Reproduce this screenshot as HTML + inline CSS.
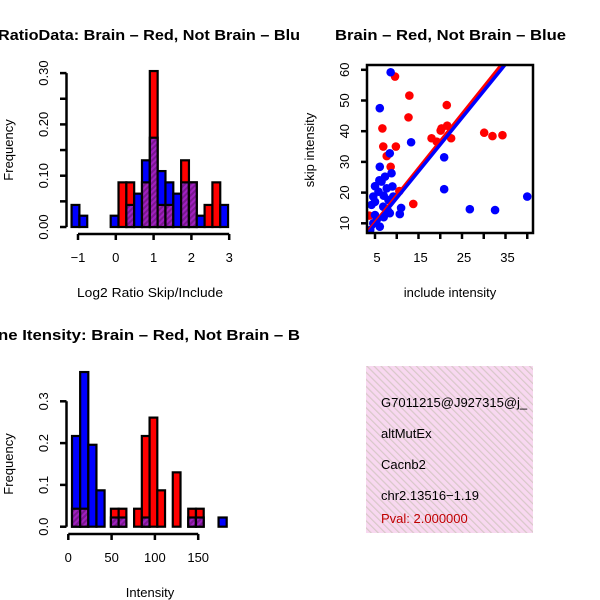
<!DOCTYPE html>
<html><head><meta charset="utf-8"><style>
body{margin:0;background:#fff}
svg{display:block;font-family:"Liberation Sans",sans-serif}
</style></head><body>
<svg id="s" width="600" height="600" viewBox="0 0 600 600" xmlns="http://www.w3.org/2000/svg">
<defs>
<pattern id="purp" patternUnits="userSpaceOnUse" width="4" height="4" patternTransform="rotate(45)">
<rect width="4" height="4" fill="#a020c0"/><rect width="2" height="4" fill="#7a1890"/></pattern>
<pattern id="pink" patternUnits="userSpaceOnUse" width="5" height="5" patternTransform="rotate(-45)">
<rect width="5" height="5" fill="#f8d8f0"/><rect width="1.2" height="5" fill="#d8c8c8"/></pattern>
<clipPath id="clip4"><rect x="366" y="366" width="167" height="167"/></clipPath>
</defs>
<g id="p1"></g>
<g id="p2"></g>
<g id="p3"></g>
<g id="p4" clip-path="url(#clip4)">
<rect x="366" y="366" width="167" height="167" fill="url(#pink)"/>
<text x="381" y="407" font-size="13">G7011215@J927315@j_</text>
<text x="381" y="438" font-size="13">altMutEx</text>
<text x="381" y="469" font-size="13">Cacnb2</text>
<text x="381" y="500" font-size="13">chr2.13516−1.19</text>
<text x="381" y="523" font-size="13" fill="#c00000">Pval: 2.000000</text>
</g>
</svg>
<script>
// ---- chart 1 data: log2 ratio histogram (20 bins) ----
const ratioStart = -1.17;
const ratioBinWidth = 0.207;
const ratioBlue = [0.043,0.022,0,0,0,0.022,0,0.043,0.065,0.13,0.174,0.109,0.087,0.065,0.087,0.087,0.022,0,0,0.043];
const ratioRed  = [0,0,0,0,0,0,0.087,0.087,0,0.087,0.304,0.043,0.043,0,0.13,0.087,0,0.043,0.087,0];
const ratioXTicks = [-1,0,1,2,3];
const ratioYTicks = [0,0.05,0.10,0.15,0.20,0.25,0.30];
const ratioYLabels = ["0.00","","0.10","","0.20","","0.30"];

// ---- chart 2 data: scatter ----
const redInclude = [9.6,12.9,21.5,12.7,6.7,20.3,21.6,20.1,18.0,19.2,22.5,30.1,32.0,34.3,6.9,9.8,7.7,8.6,10.6,13.8,3.7];
const redSkip    = [57.8,51.6,48.5,44.5,40.9,40.9,41.8,40.2,37.7,36.6,37.7,39.5,38.4,38.7,35.0,35.0,31.9,28.4,20.5,16.3,12.5];
const blueInclude = [8.6,6.1,13.3,8.4,20.9,6.1,8.8,5,6.5,7.7,20.9,4.6,9.2,4.2,6.9,10.7,8.4,5,26.8,32.6,40.0,6.1,4.6,3.9,5.8,7.3,8.1,5.4,6,7,9,5,8,11,7];
const blueSkip    = [59.2,47.5,36.4,32.8,31.5,28.4,26.3,22.1,23.6,21.4,21.1,18.7,18.7,16.0,15.4,13.0,13.3,12.7,14.6,14.3,18.7,8.9,10,7.8,20.3,25.2,17.6,11.1,24,19,22,17,14,15,12];
const fitIntercept = [1.3,0.76];   // red, blue
const fitSlope = [1.77,1.745];
const scatterXTicks = [5,10,15,20,25,30,35,40];
const scatterXLabels = ["5","","15","","25","","35",""];
const scatterYTicks = [10,20,30,40,50,60];

// ---- chart 3 data: intensity histogram ----
const blueStart = 4.3, blueWidth = 9.4;
const intBlue = [0.217,0.37,0.196,0.087,0,0,0,0,0,0,0,0,0,0,0,0,0,0,0.022];
const intBluePurple = [0.043,0.043,0,0,0,0,0,0,0,0,0,0,0,0,0,0,0,0,0];
const redStart = 49.2, redWidth = 8.93;
const intRed = [0.043,0.043,0,0.043,0.217,0.261,0.087,0,0.13,0,0.043,0.043];
const intRedPurple = [0.022,0.022,0,0,0.022,0,0,0,0,0,0.022,0.022];
const intXTicks = [0,50,100,150];
const intYTicks = [0,0.1,0.2,0.3];
const intYLabels = ["0.0","0.1","0.2","0.3"];

const NS="http://www.w3.org/2000/svg";
function mk(parent,tag,attrs,text){const e=document.createElementNS(NS,tag);for(const k in attrs)e.setAttribute(k,attrs[k]);if(text!==undefined)e.textContent=text;parent.appendChild(e);return e;}
const FS=13;

// ===== chart 1 =====
(function(){
const g=document.getElementById('p1');
const sx=v=>78+(v+1)*37.8, sy=v=>227-v*513;
for(let i=0;i<ratioBlue.length;i++){
  const b=ratioBlue[i], r=ratioRed[i];
  const x0=sx(ratioStart+i*ratioBinWidth), w=ratioBinWidth*37.8;
  const mx=Math.max(b,r), mn=Math.min(b,r);
  if(mx>0){
    const e=mk(g,'rect',{x:x0,y:sy(mx),width:w,height:sy(0)-sy(mx),fill:r>=b?'#ff0000':'#0000ff',stroke:'#000','stroke-width':2.2});
    
    
  }
  if(mn>0){
    const e=mk(g,'rect',{x:x0,y:sy(mn),width:w,height:sy(0)-sy(mn),fill:'url(#purp)',stroke:'#000','stroke-width':2.2});
    
    
  }
}
mk(g,'line',{x1:66.5,y1:sy(0),x2:66.5,y2:sy(0.30),stroke:'#000','stroke-width':2.5});
ratioYTicks.forEach((t,i)=>{mk(g,'line',{x1:60,x2:66.5,y1:sy(t),y2:sy(t),stroke:'#000','stroke-width':2.5});
  if(ratioYLabels[i]){const e=mk(g,'text',{x:48,y:sy(t),'font-size':FS,'text-anchor':'middle',transform:`rotate(-90 48 ${sy(t)})`},ratioYLabels[i]);
  }});
mk(g,'line',{x1:sx(-1),x2:sx(3),y1:234,y2:234,stroke:'#000','stroke-width':2.5});
ratioXTicks.forEach(t=>{mk(g,'line',{x1:sx(t),x2:sx(t),y1:234,y2:240,stroke:'#000','stroke-width':2.5});
  const e=mk(g,'text',{x:sx(t),y:262,'font-size':FS,'text-anchor':'middle'},t<0?'−'+(-t):String(t));
  });
let e=mk(g,'text',{x:-2,y:40,'font-size':15,'font-weight':'bold',textLength:302,lengthAdjust:'spacingAndGlyphs'},'RatioData: Brain – Red, Not Brain – Blu');

e=mk(g,'text',{x:150,y:297,'font-size':FS,'text-anchor':'middle',textLength:146,lengthAdjust:'spacingAndGlyphs'},'Log2 Ratio Skip/Include');

e=mk(g,'text',{x:13,y:150,'font-size':FS,'text-anchor':'middle',transform:'rotate(-90 13 150)'},'Frequency');

})();

// ===== chart 2 =====
(function(){
const g=document.getElementById('p2');
const sx=v=>375+(v-5)*4.35, sy=v=>223.3-(v-10)*3.07;
mk(g,'clipPath',{id:'clip2'});
mk(document.getElementById('clip2'),'rect',{x:367,y:65,width:166,height:168});
const pts=mk(g,'g',{'clip-path':'url(#clip2)'});
for(let i=0;i<redInclude.length;i++){const c=mk(pts,'circle',{cx:sx(redInclude[i]),cy:sy(redSkip[i]),r:4.3,fill:'#ff0000'});
  }
for(let i=0;i<blueInclude.length;i++){const c=mk(pts,'circle',{cx:sx(blueInclude[i]),cy:sy(blueSkip[i]),r:4.3,fill:'#0000ff'});
  }
const cols=['#ff0000','#0000ff'];
for(let k=0;k<2;k++){const xa=0,xb=45;
  const l=mk(pts,'line',{x1:sx(xa),y1:sy(fitIntercept[k]+fitSlope[k]*xa),x2:sx(xb),y2:sy(fitIntercept[k]+fitSlope[k]*xb),stroke:cols[k],'stroke-width':3.5});
  }
mk(g,'rect',{x:367,y:65,width:166,height:168,fill:'none',stroke:'#000','stroke-width':2.5});
scatterXTicks.forEach((t,i)=>{mk(g,'line',{x1:sx(t),x2:sx(t),y1:233,y2:239,stroke:'#000','stroke-width':2.5});
  if(scatterXLabels[i]){const e=mk(g,'text',{x:sx(t)+2,y:262,'font-size':FS,'text-anchor':'middle'},scatterXLabels[i]);
  }});
scatterYTicks.forEach(t=>{mk(g,'line',{x1:361,x2:367,y1:sy(t),y2:sy(t),stroke:'#000','stroke-width':2.5});
  const e=mk(g,'text',{x:349,y:sy(t),'font-size':FS,'text-anchor':'middle',transform:`rotate(-90 349 ${sy(t)})`},String(t));
  });
let e=mk(g,'text',{x:335,y:40,'font-size':15,'font-weight':'bold',textLength:231,lengthAdjust:'spacingAndGlyphs'},'Brain – Red, Not Brain – Blue');

e=mk(g,'text',{x:450,y:297,'font-size':FS,'text-anchor':'middle'},'include intensity');

e=mk(g,'text',{x:314,y:150,'font-size':FS,'text-anchor':'middle',transform:'rotate(-90 314 150)'},'skip intensity');

})();

// ===== chart 3 =====
(function(){
const g=document.getElementById('p3');
const sx=v=>68.3+v*0.866, sy=v=>526.7-v*418;
function bars(vals,purple,start,width,color,name){
  for(let i=0;i<vals.length;i++){if(!vals[i])continue;
    const x0=sx(start+i*width),w=width*0.866;
    const r=mk(g,'rect',{x:x0,y:sy(vals[i]),width:w,height:sy(0)-sy(vals[i]),fill:color,stroke:'#000','stroke-width':2.2});
    
    if(purple[i]){const p=mk(g,'rect',{x:x0,y:sy(purple[i]),width:w,height:sy(0)-sy(purple[i]),fill:'url(#purp)',stroke:'#000','stroke-width':2.2});
      }
  }}
bars(intBlue,intBluePurple,blueStart,blueWidth,'#0000ff','blue-bar');
bars(intRed,intRedPurple,redStart,redWidth,'#ff0000','red-bar');
mk(g,'line',{x1:66.5,y1:sy(0),x2:66.5,y2:sy(0.3),stroke:'#000','stroke-width':2.5});
intYTicks.forEach((t,i)=>{mk(g,'line',{x1:60,x2:66.5,y1:sy(t),y2:sy(t),stroke:'#000','stroke-width':2.5});
  const e=mk(g,'text',{x:48,y:sy(t),'font-size':FS,'text-anchor':'middle',transform:`rotate(-90 48 ${sy(t)})`},intYLabels[i]);
  });
mk(g,'line',{x1:sx(0),x2:sx(150),y1:534,y2:534,stroke:'#000','stroke-width':2.5});
intXTicks.forEach(t=>{mk(g,'line',{x1:sx(t),x2:sx(t),y1:534,y2:540,stroke:'#000','stroke-width':2.5});
  const e=mk(g,'text',{x:sx(t),y:562,'font-size':FS,'text-anchor':'middle'},String(t));
  });
let e=mk(g,'text',{x:-2,y:340,'font-size':15,'font-weight':'bold',textLength:302,lengthAdjust:'spacingAndGlyphs'},'ne Itensity: Brain – Red, Not Brain – B');

e=mk(g,'text',{x:150,y:597,'font-size':FS,'text-anchor':'middle'},'Intensity');

e=mk(g,'text',{x:13,y:464,'font-size':FS,'text-anchor':'middle',transform:'rotate(-90 13 464)'},'Frequency');

})();
</script>
</body></html>
